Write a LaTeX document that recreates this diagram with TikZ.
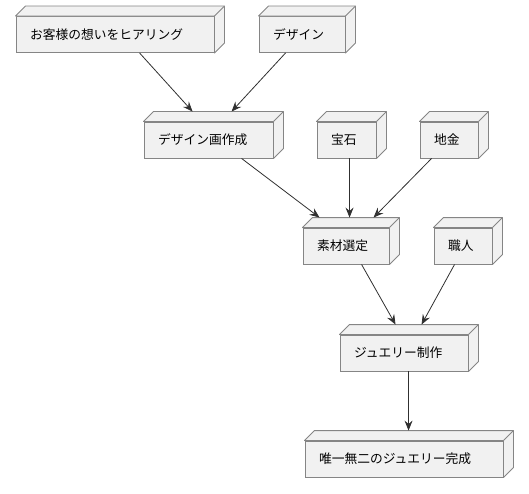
\documentclass[tikz,border=0pt]{standalone}
\usepackage{fontspec}
\setmainfont{Noto Sans CJK JP}
\usetikzlibrary{calc,arrows.meta}
\definecolor{boxfill}{HTML}{F1F1F1}
\definecolor{boxline}{HTML}{858585}
\definecolor{arrline}{HTML}{303030}
\tikzset{
  box3d/.style={draw=boxline, fill=boxfill, line width=0.9pt, minimum height=36pt,
    inner xsep=14pt, inner ysep=0pt, align=left,
    font=\fontsize{12.75}{15}\selectfont},
  arr/.style={draw=arrline, line width=0.8pt, -{Stealth[length=10pt,width=8pt,inset=3.5pt]}},
  depthface/.style={draw=boxline, fill=boxfill, line width=0.9pt, line join=round}
}
\newcommand\cubeside[1]{%
  \draw[depthface] (#1.north west) -- ($(#1.north west)+(10,-10)$) -- ($(#1.north east)+(10,-10)$)
    -- ($(#1.south east)+(10,-10)$) -- (#1.south east) -- (#1.north east) -- cycle;
  \draw[depthface] (#1.north east) -- ($(#1.north east)+(10,-10)$);}
\begin{document}
\begin{tikzpicture}[x=1pt,y=-1pt]
\useasboundingbox (0,0) rectangle (529,494);
\node[box3d, text width=170pt] (n1) at (115,34.5) {お客様の想いをヒアリング};
\node[box3d, text width=58pt] (n2) at (302,34.5) {デザイン};
\node[box3d, text width=101pt] (n3) at (208.5,140) {デザイン画作成};
\node[box3d, text width=31pt] (n4) at (346.5,140) {宝石};
\node[box3d, text width=30pt] (n5) at (449,140) {地金};
\node[box3d, text width=58pt] (n6) at (346,246) {素材選定};
\node[box3d, text width=30pt] (n7) at (463,246) {職人};
\node[box3d, text width=100pt] (n8) at (404,353) {ジュエリー制作};
\node[box3d, text width=170pt] (n9) at (404,459) {唯一無二のジュエリー完成};
\cubeside{n1}\cubeside{n2}\cubeside{n3}\cubeside{n4}\cubeside{n5}
\cubeside{n6}\cubeside{n7}\cubeside{n8}\cubeside{n9}
\draw[arr] ($(n1.south west)+(124,0)$) -- ($(n3.north west)+(49,-10)$);
\draw[arr] ($(n2.south west)+(27,0)$) -- ($(n3.north west)+(88,-10)$);
\draw[arr] ($(n3.south west)+(98,0)$) -- ($(n6.north west)+(17,-10)$);
\draw[arr] ($(n4.south west)+(33,0)$) -- ($(n6.north west)+(47,-10)$);
\draw[arr] ($(n5.south west)+(12,0)$) -- ($(n6.north west)+(71,-10)$);
\draw[arr] ($(n6.south west)+(59,0)$) -- ($(n8.north west)+(56,-10)$);
\draw[arr] ($(n7.south west)+(21,0)$) -- ($(n8.north west)+(82,-10)$);
\draw[arr] ($(n8.south west)+(69,0)$) -- ($(n9.north west)+(104,-10)$);
\end{tikzpicture}
\end{document}
